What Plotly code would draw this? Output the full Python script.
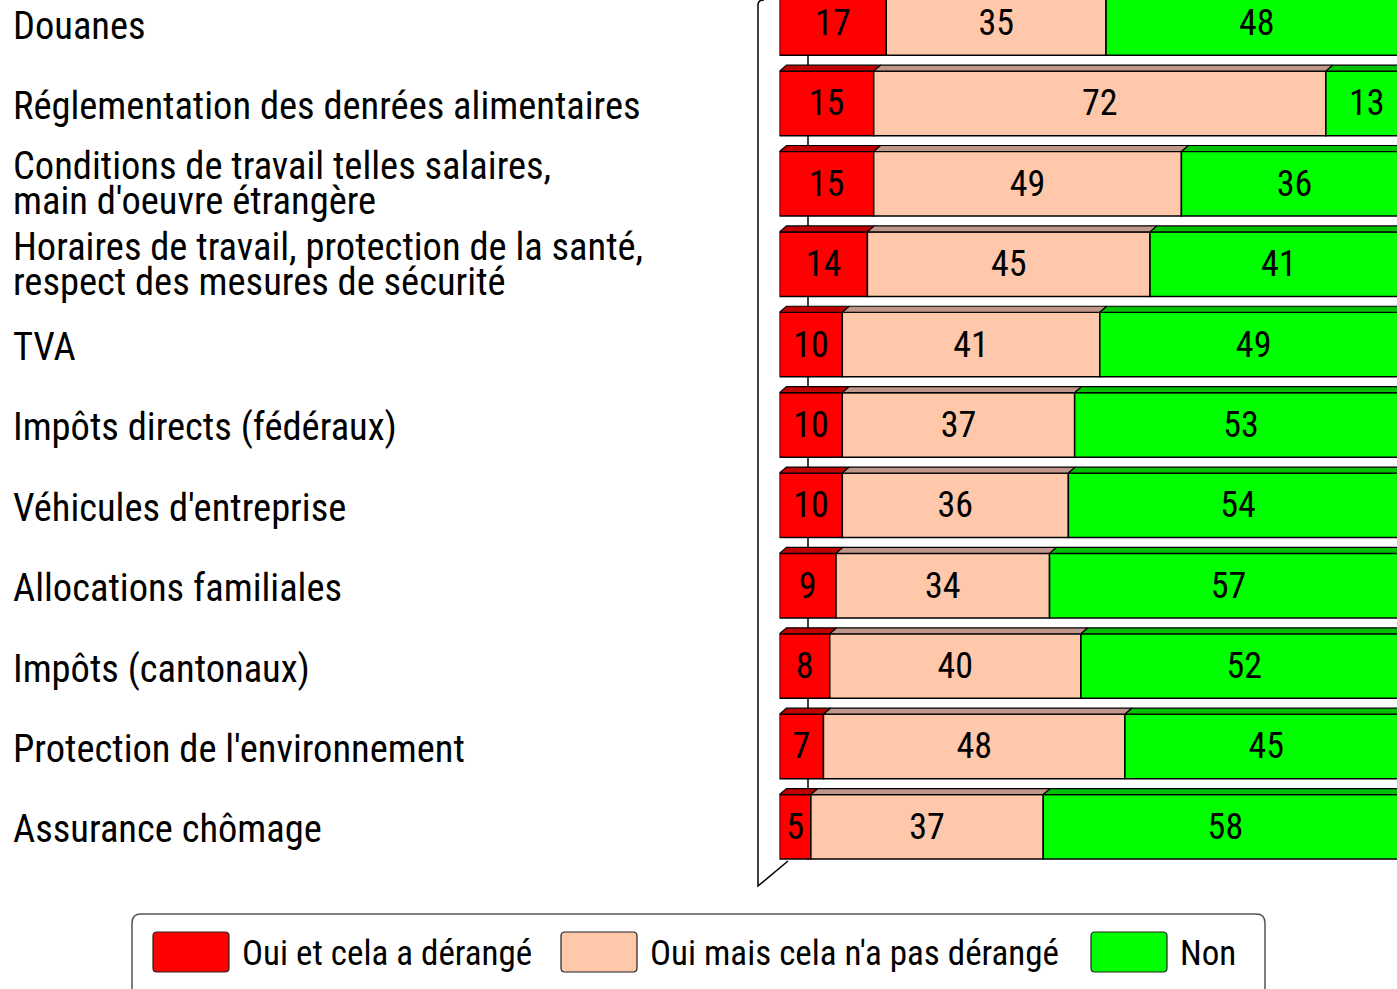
import plotly.graph_objects as go

W, H = 1397, 989

categories = [
    "Douanes",
    "Réglementation des denrées alimentaires",
    "Conditions de travail telles salaires,\nmain d'oeuvre étrangère",
    "Horaires de travail, protection de la santé,\nrespect des mesures de sécurité",
    "TVA",
    "Impôts directs (fédéraux)",
    "Véhicules d'entreprise",
    "Allocations familiales",
    "Impôts (cantonaux)",
    "Protection de l'environnement",
    "Assurance chômage",
]
oui_derange = [17, 15, 15, 14, 10, 10, 10, 9, 8, 7, 5]
oui_pas_derange = [35, 72, 49, 45, 41, 37, 36, 34, 40, 48, 37]
non = [48, 13, 36, 41, 49, 53, 54, 57, 52, 45, 58]

series_names = ["Oui et cela a dérangé", "Oui mais cela n'a pas dérangé", "Non"]
series_values = [oui_derange, oui_pas_derange, non]
front_colors = ["#FF0000", "#FFC8AA", "#00FF00"]
top_colors = ["#C00000", "#C0968A", "#00C000"]

FONT = ("Liberation Sans Narrow, Arial Narrow, Roboto Condensed, Noto Sans ExtraCondensed, "
        "Noto Sans Condensed, DejaVu Sans Condensed, sans-serif")

# axis geometry
px_per_unit = 6.28
x0_px = 779.5
x_max = (W - x0_px) / px_per_unit
row0_px = 23.0
pitch_px = 80.38
y_top = (0 - row0_px) / pitch_px
y_bot = (H - row0_px) / pitch_px
bar_w = 64.5 / pitch_px
dx = 7 / px_per_unit
dy = 6 / pitch_px

ys = list(range(len(categories)))

fig = go.Figure()

# front faces
bases = [0] * len(categories)
for name, vals, col in zip(series_names, series_values, front_colors):
    fig.add_trace(go.Bar(
        y=ys, x=vals, base=list(bases), orientation="h", name=name,
        marker=dict(color=col, line=dict(color="black", width=1.5)),
        width=bar_w,
        text=[str(v) for v in vals], textposition="inside",
        insidetextanchor="middle", textangle=0, constraintext="none",
        textfont=dict(family=FONT, size=36, color="black"),
        showlegend=False, hoverinfo="skip",
    ))
    bases = [b + v for b, v in zip(bases, vals)]

# top faces (3D effect)
bases = [0] * len(categories)
for vals, col in zip(series_values, top_colors):
    xs, yy = [], []
    for i, (b, v) in enumerate(zip(bases, vals)):
        yt = i - bar_w / 2
        xs += [b, b + dx, b + v + dx, b + v, b, None]
        yy += [yt, yt - dy, yt - dy, yt, yt, None]
    fig.add_trace(go.Scatter(
        x=xs, y=yy, mode="lines", fill="toself", fillcolor=col,
        line=dict(color="black", width=1.2), showlegend=False, hoverinfo="skip",
    ))
    bases = [b + v for b, v in zip(bases, vals)]


def px(x, y):
    return x / W, 1 - y / H


shapes = []
# back wall edge line
bx, by0 = px(808, 0)
_, by1 = px(808, 860)
shapes.append(dict(type="line", xref="paper", yref="paper", x0=bx, x1=bx, y0=by0, y1=by1,
                   line=dict(color="black", width=1.5), layer="below"))
# left wall / floor outline
path = "M {} {}".format(*px(764, 0))
path += " Q {} {} {} {}".format(*px(758, 0), *px(758, 5))
for p in [(758, 886), (788, 861)]:
    path += " L {} {}".format(*px(*p))
shapes.append(dict(type="path", xref="paper", yref="paper", path=path,
                   line=dict(color="black", width=1.5), layer="below"))


def rrect(x0, y0, x1, y1, r):
    a = px
    return ("M {} {} L {} {} Q {} {} {} {} L {} {} Q {} {} {} {} L {} {} Q {} {} {} {} L {} {} Q {} {} {} {} Z"
            .format(*a(x0 + r, y0), *a(x1 - r, y0), *a(x1, y0), *a(x1, y0 + r),
                    *a(x1, y1 - r), *a(x1, y1), *a(x1 - r, y1),
                    *a(x0 + r, y1), *a(x0, y1), *a(x0, y1 - r),
                    *a(x0, y0 + r), *a(x0, y0), *a(x0 + r, y0)))


# legend box
shapes.append(dict(type="path", xref="paper", yref="paper", path=rrect(132, 914, 1265, 1000, 9),
                   line=dict(color="#555555", width=1.5), fillcolor="white", layer="above"))

annotations = []
sw_x = [153, 561, 1091]
for name, col, sx in zip(series_names, front_colors, sw_x):
    shapes.append(dict(type="path", xref="paper", yref="paper", path=rrect(sx, 932, sx + 76, 972, 4),
                       line=dict(color="#222222", width=1.2), fillcolor=col, layer="above"))
    tx, ty = px(sx + 87, 953)
    annotations.append(dict(x=tx, y=ty, xref="paper", yref="paper", text=name, showarrow=False,
                            xanchor="left", yanchor="middle",
                            font=dict(family=FONT, size=35, color="black")))

# category labels
lx = 11 / W
for i, cat in enumerate(categories):
    lines = cat.split("\n")
    if len(lines) == 1:
        shifts = [-2]
    else:
        shifts = [18, -17]
    for ln, s in zip(lines, shifts):
        annotations.append(dict(x=lx, y=i, xref="paper", yref="y", text=ln, showarrow=False,
                                xanchor="left", yanchor="middle", yshift=s,
                                font=dict(family=FONT, size=38.5, color="black")))

fig.update_layout(
    width=W, height=H,
    margin=dict(l=0, r=0, t=0, b=0),
    paper_bgcolor="white", plot_bgcolor="white",
    barmode="overlay",
    xaxis=dict(domain=[x0_px / W, 1], range=[0, x_max], visible=False, fixedrange=True),
    yaxis=dict(domain=[0, 1], range=[y_bot, y_top], visible=False, fixedrange=True),
    shapes=shapes, annotations=annotations,
    showlegend=False,
)

fig.write_html("out.html", config={"displayModeBar": False},
               post_script="document.body.style.margin='0';document.body.style.overflow='hidden';")
